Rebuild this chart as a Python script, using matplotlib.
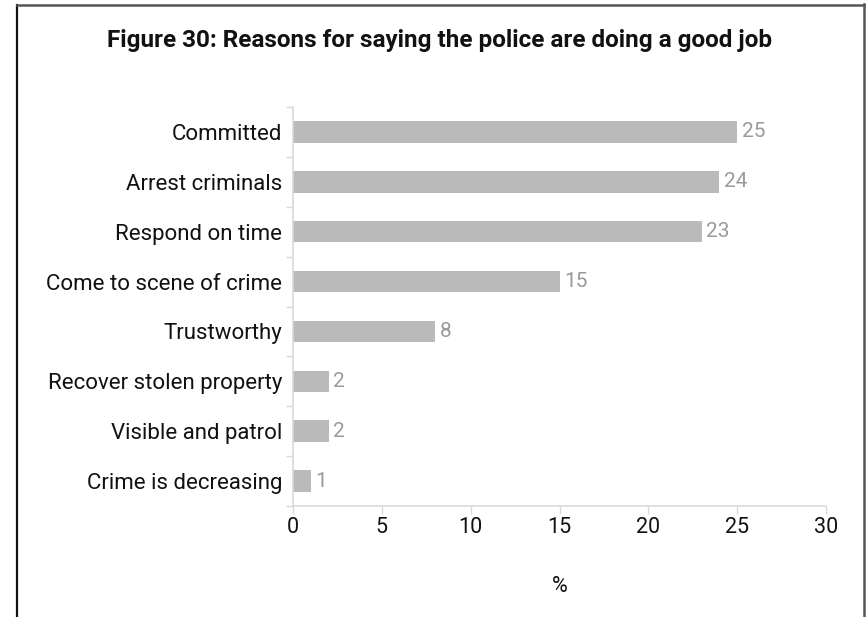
import matplotlib
matplotlib.use("Agg")
import matplotlib.pyplot as plt
from matplotlib.lines import Line2D
import numpy as np

categories = [
    "Committed",
    "Arrest criminals",
    "Respond on time",
    "Come to scene of crime",
    "Trustworthy",
    "Recover stolen property",
    "Visible and patrol",
    "Crime is decreasing",
]
values = [25, 24, 23, 15, 8, 2, 2, 1]
x_ticks = [0, 5, 10, 15, 20, 25, 30]

title = "Figure 30: Reasons for saying the police are doing a good job"

W, H = 867, 617
fig = plt.figure(figsize=(W / 100, H / 100), dpi=100)
plt.rcParams["font.family"] = ["Roboto", "DejaVu Sans"]

# frame around the whole figure (open at the bottom)
def fx(px):
    return px / W

def fy(py):
    return 1 - py / H

fig.add_artist(Line2D([fx(17), fx(17)], [fy(4.5), fy(640)], color="#111111", lw=1.6,
                      transform=fig.transFigure))
fig.add_artist(Line2D([fx(16.5), fx(864)], [fy(4.5), fy(4.5)], color="#555555", lw=1.8,
                      transform=fig.transFigure))
fig.add_artist(Line2D([fx(864), fx(864)], [fy(4), fy(640)], color="#555555", lw=1.8,
                      transform=fig.transFigure))

fig.text(fx(440), fy(41), title, ha="center", va="center", fontsize=17.5,
         fontweight="bold", color="#111111")

ax = fig.add_axes([fx(293), fy(506), fx(826) - fx(293), fy(107) - fy(506)])

y = np.arange(len(categories))
ax.barh(y, values, height=0.43, color="#bababa", zorder=2)
for yi, v in zip(y, values):
    ax.text(v + 0.25, yi, f"{v:.0f}", va="center", ha="left", fontsize=15, color="#9a9a9a")

ax.set_xlim(0, 30)
ax.set_ylim(len(categories) - 0.5, -0.5)
ax.set_xticks(x_ticks)
ax.set_xticklabels([str(t) for t in x_ticks], fontsize=15.5, color="#111111")
ax.set_yticks(y)
ax.set_yticklabels(categories, fontsize=16, color="#111111")
ax.set_yticks(np.arange(len(categories) + 1) - 0.5, minor=True)
ax.tick_params(axis="y", which="major", length=0, pad=8)
ax.tick_params(axis="y", which="minor", length=5, color="#d9d9d9", width=1)
ax.tick_params(axis="x", which="major", length=6, color="#d9d9d9", width=1, pad=2)

for side in ["top", "right"]:
    ax.spines[side].set_visible(False)
for side in ["left", "bottom"]:
    ax.spines[side].set_color("#d9d9d9")
    ax.spines[side].set_linewidth(1.2)

ax.set_xlabel("%", fontsize=15.5, color="#111111", labelpad=27)

fig.savefig("out.png", dpi=100)
